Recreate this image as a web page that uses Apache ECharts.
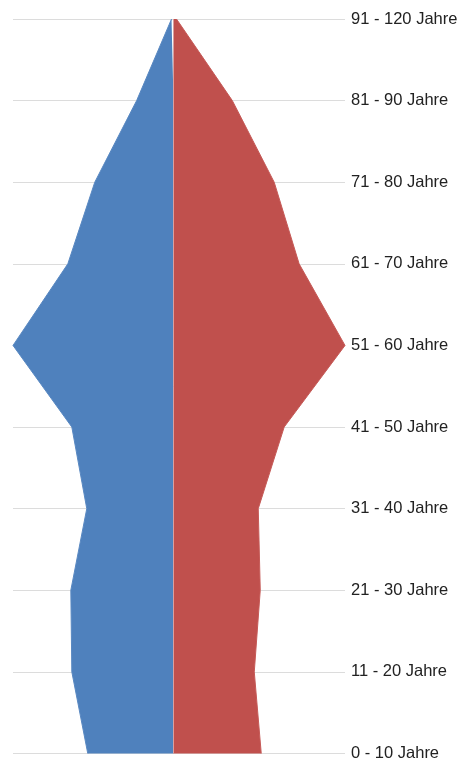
<!DOCTYPE html>
<html>
<head>
<meta charset="utf-8">
<script src="https://cdn.jsdelivr.net/npm/echarts@6/dist/echarts.min.js"></script>
<style>
  html, body { margin: 0; padding: 0; background: #fff; }
  #chart { width: 462px; height: 762px; }
</style>
</head>
<body>
<div id="chart"></div>
<script>
// Altersgruppen, von unten nach oben
const ageGroups = ['0 - 10 Jahre', '11 - 20 Jahre', '21 - 30 Jahre', '31 - 40 Jahre', '41 - 50 Jahre',
  '51 - 60 Jahre', '61 - 70 Jahre', '71 - 80 Jahre', '81 - 90 Jahre', '91 - 120 Jahre'];
// linke Seite (blau), rechte Seite (rot)
const maleValues = [86, 102, 103, 87, 102, 161, 106, 79, 37, 2];
const femaleValues = [88, 81, 87, 85, 111, 172, 126, 101, 59, 3];

const chart = echarts.init(document.getElementById('chart'));

chart.setOption({
  animation: false,
  grid: { left: 13, right: 117, top: 19, bottom: 5 },
  xAxis: {
    type: 'value',
    min: 'dataMin',
    max: 'dataMax',
    show: false
  },
  yAxis: {
    type: 'category',
    position: 'right',
    boundaryGap: false,
    data: ageGroups,
    axisLine: { show: false },
    axisTick: { show: false },
    axisLabel: {
      margin: 6,
      color: '#222',
      fontFamily: 'Liberation Sans, Arial, sans-serif',
      fontSize: 16.5
    },
    splitLine: { show: true, lineStyle: { color: '#dcdcdc', width: 1 } }
  },
  series: [
    {
      type: 'line',
      data: maleValues.map(v => -v),
      showSymbol: false,
      lineStyle: { width: 1, color: '#5a89c2' },
      itemStyle: { color: '#4f81bd' },
      areaStyle: { color: '#4f81bd', opacity: 1 },
      z: 2
    },
    {
      type: 'line',
      data: femaleValues,
      showSymbol: false,
      lineStyle: { width: 1, color: '#c65b58' },
      itemStyle: { color: '#c0504d' },
      areaStyle: { color: '#c0504d', opacity: 1 },
      z: 2,
      markLine: {
        silent: true,
        symbol: 'none',
        label: { show: false },
        lineStyle: { color: '#d9a0a0', width: 1, type: 'solid' },
        data: [{ xAxis: 0 }]
      }
    }
  ]
});
</script>
</body>
</html>
